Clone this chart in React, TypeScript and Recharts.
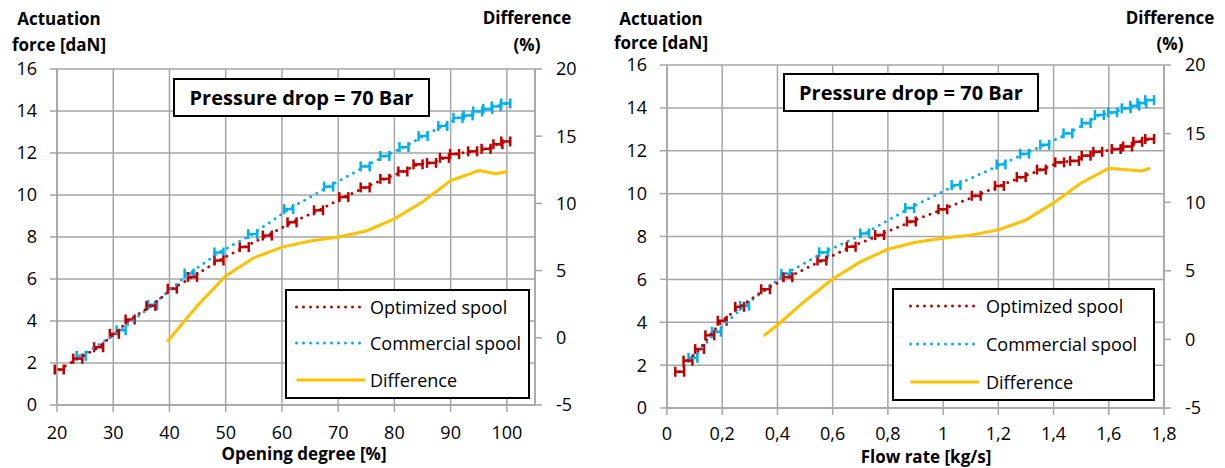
import {
  ComposedChart,
  Scatter,
  XAxis,
  YAxis,
  CartesianGrid,
  ErrorBar,
  Legend,
} from "recharts";

// measured actuation force [daN]
const optForce = [1.69, 2.21, 2.75, 3.39, 4.07, 4.72, 5.54, 6.1, 6.88, 7.52, 8.07, 8.7, 9.27, 9.9, 10.36, 10.77, 11.12, 11.46, 11.53, 11.77, 11.95, 12.08, 12.2, 12.42, 12.55];
const comForce = [2.34, 3.56, 4.77, 6.26, 7.26, 8.14, 9.33, 10.4, 11.36, 11.86, 12.28, 12.81, 13.29, 13.67, 13.79, 13.98, 14.1, 14.22, 14.36];

// opening degree [%]
const optOpening = [20.4, 23.7, 27.4, 30.2, 33.0, 36.7, 40.5, 44.1, 48.8, 53.3, 57.4, 61.8, 66.5, 71.0, 74.8, 78.3, 81.5, 84.2, 86.6, 88.9, 90.7, 93.9, 96.3, 98.4, 99.8];
const comOpening = [24.3, 31.4, 37.0, 43.5, 48.8, 54.8, 61.2, 68.3, 74.8, 78.3, 81.7, 85.1, 88.6, 91.3, 93.1, 94.8, 96.6, 98.1, 99.8];

// flow rate [kg/s]
const optFlow = [0.046, 0.076, 0.118, 0.155, 0.2, 0.263, 0.357, 0.438, 0.561, 0.667, 0.77, 0.885, 0.999, 1.12, 1.204, 1.283, 1.356, 1.422, 1.476, 1.518, 1.56, 1.627, 1.668, 1.705, 1.748];
const comFlow = [0.094, 0.179, 0.281, 0.43, 0.567, 0.716, 0.879, 1.047, 1.21, 1.295, 1.368, 1.452, 1.518, 1.566, 1.614, 1.663, 1.694, 1.72, 1.748];

// difference (%)
const diffOpening = [39.6, 45, 50, 55, 60, 65, 70, 75, 80, 85, 90, 95, 98, 100];
const diffOpeningPct = [-0.3, 2.4, 4.6, 5.95, 6.75, 7.2, 7.5, 7.95, 8.85, 10.1, 11.7, 12.45, 12.2, 12.35];
const diffFlow = [0.35, 0.4, 0.5, 0.6, 0.7, 0.8, 0.9, 1.0, 1.1, 1.2, 1.3, 1.4, 1.5, 1.6, 1.72, 1.75];
const diffFlowPct = [0.26, 1.05, 2.8, 4.4, 5.65, 6.57, 7.08, 7.38, 7.6, 7.98, 8.7, 9.95, 11.4, 12.48, 12.28, 12.48];

// x error (half width)
const errOpening = 0.8;
const errFlow = 0.016;

const forceTicks = [0, 2, 4, 6, 8, 10, 12, 14, 16];
const diffTicks = [-5, 0, 5, 10, 15, 20];
const openingTicks = [20, 30, 40, 50, 60, 70, 80, 90, 100];
const flowTicks = [0, 0.2, 0.4, 0.6, 0.8, 1, 1.2, 1.4, 1.6, 1.8];

const legendLabels = ["Optimized spool", "Commercial spool", "Difference"];

const RED = "#C00000";
const BLUE = "#00B0F0";
const ORANGE = "#FFC000";
const GRID = "#A6A6A6";
const H = 468;

const zip = (xs, ys, ex = 0) => xs.map((x, i) => ({ x, y: ys[i], ex }));

const noShape = () => <g />;

const dotted = { strokeWidth: 3, strokeDasharray: "0 7", strokeLinecap: "round" };

const sampleStyle = [
  { stroke: RED, ...dotted },
  { stroke: BLUE, ...dotted },
  { stroke: ORANGE, strokeWidth: 3 },
];

const makeLegend = (lg) => () => (
  <div
    style={{
      boxSizing: "border-box",
      width: lg.w,
      height: lg.h,
      border: "2px solid #000",
      background: "#fff",
      position: "relative",
    }}
  >
    {legendLabels.map((label, i) => (
      <div
        key={label}
        style={{ position: "absolute", left: 0, top: lg.rows[i] - 15, height: 26, width: lg.w - 4 }}
      >
        <svg width={lg.s1} height={26} style={{ position: "absolute", left: 0, top: 0 }}>
          <line x1={lg.s0 - 2 + 1.5} x2={lg.s1 - 2} y1={13} y2={13} {...sampleStyle[i]} />
        </svg>
        <span
          style={{
            position: "absolute",
            left: lg.tx - 2,
            top: 0,
            lineHeight: "26px",
            fontSize: 18,
            color: "#000",
            whiteSpace: "nowrap",
          }}
        >
          {label}
        </span>
      </div>
    ))}
  </div>
);

const leftCfg = {
  left: 0,
  width: 612,
  margin: { top: 69, right: 17, bottom: 23, left: 0 },
  leftW: 57,
  rightW: 60,
  xMargin: 14,
  xDomain: [20, 105],
  xTicks: openingTicks,
  fmt: (v) => String(v),
  opt: zip(optOpening, optForce, errOpening),
  com: zip(comOpening, comForce, errOpening),
  diff: zip(diffOpening, diffOpeningPct),
  legend: { left: 285, top: 289, w: 245, h: 110, rows: [18, 54, 91], s0: 10, s1: 80, tx: 85 },
  box: { left: 173, top: 78, w: 257, h: 39 },
  yTitle: { cx: 59, cy: [19, 45] },
  rTitle: { cx: 527, cy: [18, 45] },
  xTitle: { cx: 304, cy: 454, text: "Opening degree [%]" },
};

const rightCfg = {
  left: 612,
  width: 613,
  margin: { top: 65, right: 0, bottom: 20, left: 0 },
  leftW: 55,
  rightW: 61,
  xMargin: 12,
  xDomain: [0, 1.8],
  xTicks: flowTicks,
  fmt: (v) => String(v).replace(".", ","),
  opt: zip(optFlow, optForce, errFlow),
  com: zip(comFlow, comForce, errFlow),
  diff: zip(diffFlow, diffFlowPct),
  legend: { left: 280, top: 288, w: 263, h: 113, rows: [18, 56, 94], s0: 17, s1: 87, tx: 94 },
  box: { left: 171, top: 73, w: 256, h: 39 },
  yTitle: { cx: 49, cy: [19, 43] },
  rTitle: { cx: 558, cy: [18, 44] },
  xTitle: { cx: 314, cy: 457, text: "Flow rate [kg/s]" },
};

const tickStyle = { fill: "#000", fontSize: 18 };
const titleStyle = {
  position: "absolute",
  width: 240,
  height: 16,
  textAlign: "center",
  fontWeight: 700,
  fontSize: 17,
  lineHeight: "16px",
  color: "#000",
  whiteSpace: "nowrap",
};

const Title = ({ cx, cy, children }) => (
  <div style={{ ...titleStyle, left: cx - 120, top: cy - 8 }}>{children}</div>
);

function Panel({ cfg }) {
  return (
    <div style={{ position: "absolute", left: cfg.left, top: 0, width: cfg.width, height: H }}>
      <ComposedChart width={cfg.width} height={H} margin={cfg.margin}>
        <CartesianGrid yAxisId="left" stroke={GRID} strokeWidth={1.5} />
        <XAxis
          type="number"
          dataKey="x"
          domain={cfg.xDomain}
          ticks={cfg.xTicks}
          interval={0}
          allowDataOverflow
          tickFormatter={cfg.fmt}
          height={40}
          tickSize={7}
          tickMargin={cfg.xMargin}
          stroke={GRID}
          strokeWidth={1.5}
          tick={tickStyle}
        />
        <YAxis
          yAxisId="left"
          type="number"
          dataKey="y"
          domain={[0, 16]}
          allowDataOverflow
          ticks={forceTicks}
          interval={0}
          width={cfg.leftW}
          tickSize={7}
          tickMargin={13}
          stroke={GRID}
          strokeWidth={1.5}
          tick={tickStyle}
        />
        <YAxis
          yAxisId="right"
          orientation="right"
          type="number"
          dataKey="y"
          domain={[-5, 20]}
          allowDataOverflow
          ticks={diffTicks}
          interval={0}
          width={cfg.rightW}
          tickSize={7}
          tickMargin={14}
          stroke={GRID}
          strokeWidth={1.5}
          tick={tickStyle}
        />
        <Scatter
          yAxisId="right"
          name="Difference"
          data={cfg.diff}
          fill={ORANGE}
          line={{ stroke: ORANGE, strokeWidth: 3 }}
          shape={noShape}
          isAnimationActive={false}
        />
        <Scatter
          yAxisId="left"
          name="Commercial spool"
          data={cfg.com}
          fill={BLUE}
          line={{ stroke: BLUE, ...dotted }}
          shape={noShape}
          isAnimationActive={false}
        >
          <ErrorBar dataKey="ex" direction="x" width={5} strokeWidth={2.5} stroke={BLUE} />
        </Scatter>
        <Scatter
          yAxisId="left"
          name="Optimized spool"
          data={cfg.opt}
          fill={RED}
          line={{ stroke: RED, ...dotted }}
          shape={noShape}
          isAnimationActive={false}
        >
          <ErrorBar dataKey="ex" direction="x" width={5} strokeWidth={2.5} stroke={RED} />
        </Scatter>
        <Legend
          layout="vertical"
          align="center"
          verticalAlign="middle"
          content={makeLegend(cfg.legend)}
          wrapperStyle={{
            left: cfg.legend.left,
            top: cfg.legend.top,
            width: cfg.legend.w,
            height: cfg.legend.h,
          }}
        />
      </ComposedChart>

      <div
        style={{
          position: "absolute",
          boxSizing: "border-box",
          left: cfg.box.left,
          top: cfg.box.top,
          width: cfg.box.w,
          height: cfg.box.h,
          border: "2px solid #000",
          background: "#fff",
          fontWeight: 700,
          fontSize: 20,
          lineHeight: `${cfg.box.h - 4}px`,
          textAlign: "center",
          whiteSpace: "nowrap",
        }}
      >
        Pressure drop = 70 Bar
      </div>

      <Title cx={cfg.yTitle.cx} cy={cfg.yTitle.cy[0]}>Actuation</Title>
      <Title cx={cfg.yTitle.cx} cy={cfg.yTitle.cy[1]}>force [daN]</Title>
      <Title cx={cfg.rTitle.cx} cy={cfg.rTitle.cy[0]}>Difference</Title>
      <Title cx={cfg.rTitle.cx} cy={cfg.rTitle.cy[1]}>(%)</Title>
      <Title cx={cfg.xTitle.cx} cy={cfg.xTitle.cy}>{cfg.xTitle.text}</Title>
    </div>
  );
}

export default function App() {
  return (
    <div
      style={{
        position: "absolute",
        left: 0,
        top: 0,
        width: 1225,
        height: H,
        background: "#fff",
        fontFamily: "'Open Sans', sans-serif",
      }}
    >
      <Panel cfg={leftCfg} />
      <Panel cfg={rightCfg} />
    </div>
  );
}
